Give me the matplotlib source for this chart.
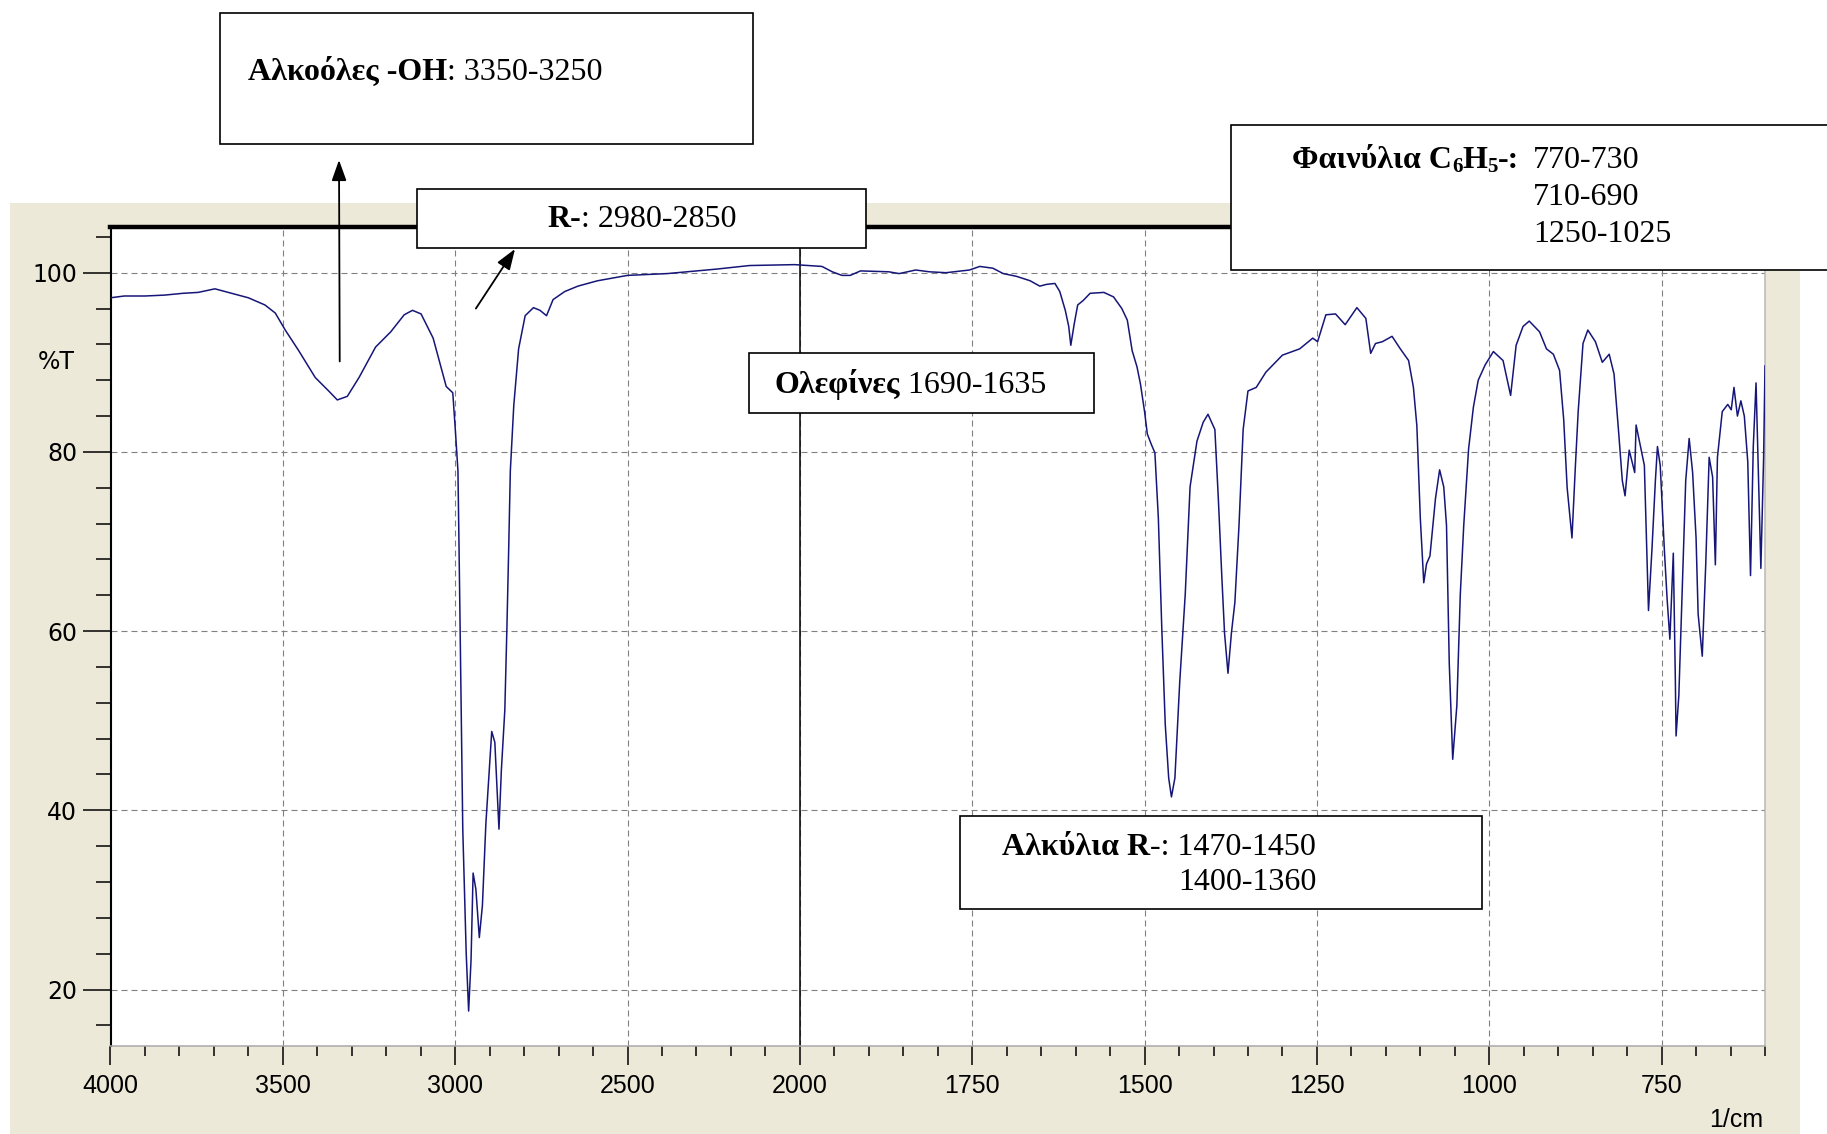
import numpy as np
import matplotlib
matplotlib.use("Agg")
import matplotlib.pyplot as plt
from matplotlib.patches import Rectangle

W, H = 1827, 1134

# IR spectrum read point by point (wavenumber in 1/cm, transmittance in %)
wavenumber = [
    4000, 3960, 3900, 3843, 3790, 3746, 3697, 3649, 3600, 3552, 3522, 3493, 3454, 3406,
    3367, 3342, 3313, 3279, 3231, 3187, 3148, 3124, 3099, 3064, 3045, 3026, 3007, 3000,
    2992, 2988, 2983, 2978, 2968, 2961, 2954, 2948, 2940, 2930, 2921, 2911, 2902, 2894,
    2885, 2873, 2866, 2856, 2850, 2845, 2840, 2830, 2816, 2797, 2773, 2754, 2735, 2716,
    2682, 2644, 2587, 2500, 2385, 2242, 2146, 2015, 1968, 1953, 1939, 1927, 1912, 1871,
    1856, 1832, 1812, 1788, 1754, 1739, 1720, 1705, 1686, 1666, 1652, 1642, 1630, 1623,
    1615, 1610, 1607, 1602, 1597, 1589, 1579, 1559, 1545, 1533, 1525, 1518, 1511, 1506,
    1500, 1496, 1490, 1485, 1480, 1475, 1470, 1465, 1461, 1456, 1449, 1441, 1434, 1424,
    1415, 1408, 1398, 1393, 1388, 1384, 1379, 1374, 1369, 1363, 1357, 1350, 1338, 1324,
    1300, 1275, 1256, 1249, 1237, 1223, 1209, 1192, 1179, 1172, 1165, 1155, 1141, 1129,
    1117, 1110, 1105, 1100, 1095, 1091, 1086, 1078, 1072, 1066, 1062, 1058, 1053, 1047,
    1042, 1037, 1030, 1023, 1016, 1006, 994, 980, 969, 961, 951, 942, 927, 917,
    907, 898, 892, 887, 880, 875, 871, 864, 857, 846, 836, 826, 819, 812,
    807, 803, 797, 789, 787, 782, 775, 769, 764, 759, 756, 752, 746, 742,
    738, 733, 730, 729, 725, 720, 715, 710, 705, 700, 697, 691, 686, 681,
    676, 672, 669, 662, 654, 649, 645, 640, 635, 630, 625, 621, 617, 613,
    610, 606, 602, 600,
]
transmittance = [
    97.2, 97.4, 97.4, 97.5, 97.7, 97.8, 98.2, 97.7, 97.2, 96.4, 95.5, 93.6, 91.3, 88.3,
    86.8, 85.8, 86.2, 88.3, 91.7, 93.4, 95.3, 95.8, 95.4, 92.7, 90.0, 87.3, 86.6, 82.7,
    77.9, 67.0, 52.4, 37.9, 24.0, 17.6, 23.3, 33.0, 31.2, 25.8, 29.4, 38.5, 44.0, 48.8,
    47.6, 37.9, 44.5, 51.2, 60.3, 68.8, 77.9, 85.2, 91.5, 95.2, 96.1, 95.8, 95.2, 97.0,
    97.9, 98.5, 99.1, 99.7, 99.9, 100.4, 100.8, 100.9, 100.7, 100.1, 99.7, 99.7, 100.2, 100.1,
    99.9, 100.3, 100.1, 100.0, 100.3, 100.7, 100.5, 99.9, 99.6, 99.1, 98.5, 98.7, 98.8, 97.9,
    95.8, 94.0, 91.9, 94.3, 96.4, 96.9, 97.7, 97.8, 97.3, 96.0, 94.7, 91.3, 89.5, 87.6,
    84.5, 82.0, 80.8, 79.9, 72.6, 60.3, 49.6, 43.6, 41.5, 43.6, 54.3, 64.1, 76.1, 81.2,
    83.3, 84.2, 82.5, 74.8, 66.2, 59.8, 55.3, 59.8, 63.2, 71.8, 82.5, 86.8, 87.2, 88.9,
    90.8, 91.5, 92.7, 92.3, 95.3, 95.4, 94.2, 96.1, 94.9, 91.0, 92.1, 92.3, 92.9, 91.5,
    90.2, 87.2, 82.9, 72.6, 65.4, 67.5, 68.4, 74.8, 78.0, 76.1, 71.8, 56.4, 45.7, 51.7,
    64.1, 71.8, 80.3, 85.0, 88.0, 89.7, 91.2, 90.2, 86.3, 91.9, 94.0, 94.6, 93.4, 91.5,
    90.9, 89.1, 83.6, 76.0, 70.4, 78.5, 84.5, 92.1, 93.6, 92.3, 90.0, 90.9, 88.7, 81.9,
    76.8, 75.1, 80.2, 77.7, 83.0, 81.1, 78.5, 62.3, 69.1, 76.8, 80.6, 78.5, 69.1, 63.6,
    59.1, 68.7, 54.3, 48.3, 52.8, 64.9, 76.8, 81.5, 77.7, 70.4, 61.9, 57.2, 67.4, 79.4,
    77.2, 67.4, 79.4, 84.5, 85.3, 84.7, 87.2, 84.0, 85.7, 84.0, 78.9, 66.2, 80.6, 87.7,
    78.9, 67.0, 79.4, 89.6,
]

x_major = [4000, 3500, 3000, 2500, 2000, 1750, 1500, 1250, 1000, 750]
x_minor = [v for v in list(range(3900, 2000, -100)) + list(range(1950, 599, -50)) if v not in x_major]
y_major = [20, 40, 60, 80, 100]
y_minor = [v for v in range(16, 105, 4) if v not in y_major]

SERIF = ["Liberation Serif", "DejaVu Serif"]
SANS = ["DejaVu Sans"]
NARROW = ["Liberation Sans", "DejaVu Sans"]
BEIGE = "#ECE9D8"


# wavenumber axis: 4000-2000 compressed, 2000-600 at double scale
def fwd(x):
    x = np.asarray(x, dtype=float)
    return np.where(x >= 2000, x, 2 * x - 2000)


def inv(u):
    u = np.asarray(u, dtype=float)
    return np.where(u >= 2000, u, (u + 2000) / 2)


def fx(px):
    return px / W


def fy(py):
    return 1 - py / H


fig = plt.figure(figsize=(W / 100, H / 100), dpi=100)
fig.patch.set_facecolor("white")

# beige window panel behind the plot
fig.add_artist(Rectangle((fx(10), 0), fx(1800) - fx(10), fy(203), transform=fig.transFigure,
                         facecolor=BEIGE, edgecolor="none", zorder=-1))

ax = fig.add_axes([fx(110.5), fy(1046), fx(1765) - fx(110.5), fy(227) - fy(1046)])
ax.set_facecolor("white")
ax.set_xscale("function", functions=(fwd, inv))
ax.set_xlim(4000, 600)
ax.set_ylim(13.7, 105.1)

ax.set_xticks(x_major)
ax.set_xticks(x_minor, minor=True)
ax.set_xticklabels([str(v) for v in x_major])
ax.set_yticks(y_major)
ax.set_yticks(y_minor, minor=True)
ax.set_yticklabels([str(v) for v in y_major])

ax.tick_params(axis="x", which="major", direction="out", length=14, width=1.1, pad=6, labelsize=18)
ax.tick_params(axis="x", which="minor", direction="out", length=7, width=1.1)
ax.tick_params(axis="y", which="major", direction="out", length=20, width=1.1, pad=4, labelsize=17)
ax.tick_params(axis="y", which="minor", direction="out", length=11, width=1.1)
for lbl in ax.get_xticklabels():
    lbl.set_fontfamily(NARROW)
for lbl in ax.get_yticklabels():
    lbl.set_fontfamily(SANS)

ax.grid(which="major", color="#808080", lw=0.8, linestyle=(0, (5.4, 3.6)))
ax.set_axisbelow(True)

ax.spines["top"].set_linewidth(3.2)
ax.spines["top"].set_color("black")
ax.spines["left"].set_linewidth(1.5)
ax.spines["left"].set_color("black")
ax.spines["bottom"].set_linewidth(1.1)
ax.spines["bottom"].set_color("#a8a8a8")
ax.spines["right"].set_linewidth(1.1)
ax.spines["right"].set_color("#b8b8b8")

ax.axvline(2000, color="black", lw=1.1, zorder=2)
ax.plot(wavenumber, transmittance, color="#161678", lw=1.1, zorder=3)

ax.text(-0.033, 90, "%T", transform=ax.get_yaxis_transform(), ha="center", va="center",
        fontsize=17, family=SANS)
fig.text(fx(1763), fy(1120), "1/cm", ha="right", va="center", fontsize=18, family=NARROW)

# annotation boxes
boxes = [
    (220, 13, 753, 144),
    (417, 189, 866, 248),
    (749, 353, 1094, 413),
    (1231, 125, 1900, 270),
    (960, 816, 1482, 909),
]
for x0, y0, x1, y1 in boxes:
    fig.add_artist(Rectangle((fx(x0), fy(y1)), fx(x1) - fx(x0), fy(y0) - fy(y1),
                             transform=fig.transFigure, facecolor="white",
                             edgecolor="black", lw=1.2, zorder=2))

fig.canvas.draw()
renderer = fig.canvas.get_renderer()


def rich_line(x, y, parts, size=23):
    # parts: (text, weight) or (text, weight, size, drop in px for subscripts)
    cx = x
    for part in parts:
        s, w = part[0], part[1]
        fs = part[2] if len(part) > 2 else size
        dy = part[3] if len(part) > 3 else 0
        t = fig.text(fx(cx), fy(y + dy), s, fontsize=fs, fontweight=w, family=SERIF,
                     ha="left", va="baseline", zorder=5)
        cx = t.get_window_extent(renderer).x1


rich_line(248, 80, [("Αλκοόλες -ΟΗ", "bold"), (": 3350-3250", "normal")])
rich_line(547, 227, [("R-", "bold"), (": 2980-2850", "normal")])
rich_line(775, 393, [("Ολεφίνες", "bold"), (" 1690-1635", "normal")])
rich_line(1292, 168, [("Φαινύλια C", "bold"), ("6", "bold", 15, 4), ("H", "bold"),
                      ("5", "bold", 15, 4), ("-:", "bold")])
rich_line(1533, 168, [("770-730", "normal")])
rich_line(1533, 205, [("710-690", "normal")])
rich_line(1533, 242, [("1250-1025", "normal")])
rich_line(1002, 855, [("Αλκύλια R", "bold"), ("-: 1470-1450", "normal")])
rich_line(1178, 890, [("1400-1360", "normal")])

# arrows from the bands up to their labels
arrow = dict(arrowstyle="-|>,head_length=0.7,head_width=0.25", color="black", lw=1.3,
             shrinkA=0, shrinkB=0, mutation_scale=18)
ax.annotate("", xy=(fx(339), fy(160)), xycoords="figure fraction",
            xytext=(3335, 90.1), textcoords="data", arrowprops=arrow, annotation_clip=False)
ax.annotate("", xy=(fx(515), fy(249)), xycoords="figure fraction",
            xytext=(2940, 96.0), textcoords="data", arrowprops=arrow, annotation_clip=False)

fig.savefig("out.png", dpi=100)
